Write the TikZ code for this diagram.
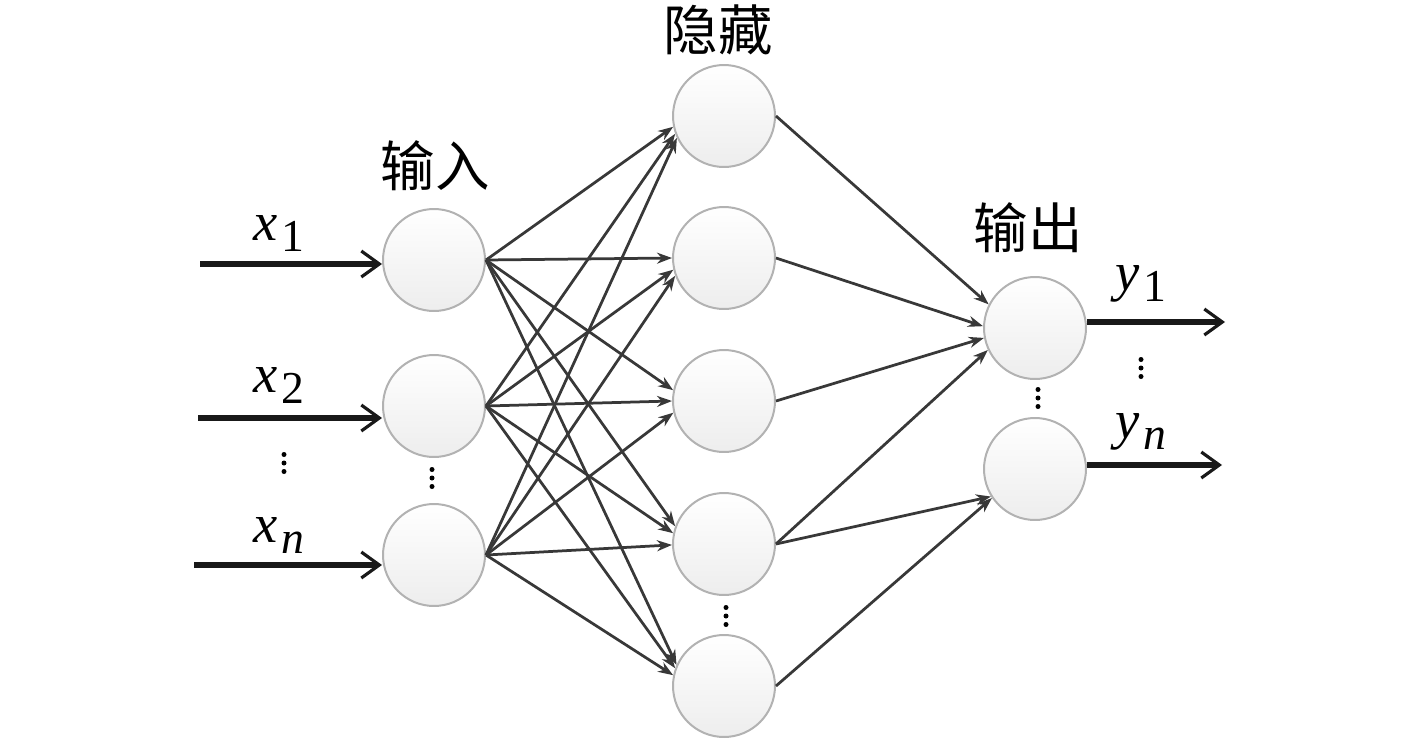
\documentclass[tikz,border=0pt]{standalone}
\usepackage{fontspec}
\setmainfont{Liberation Serif}
\newfontfamily\timesfont{Liberation Serif}
\newfontfamily\cjk{Noto Sans CJK SC}
\usetikzlibrary{arrows.meta}

\newcommand{\varsub}[2]{\textit{#1}\kern0.08cm\raisebox{-0.22cm}{\fontsize{26}{26}\selectfont #2}}
\newcommand{\threedots}[1]{\foreach \d in {-1,0,1} {\fill (#1) ++(0,\d*8.5) circle (0.05cm);}}

\tikzset{
    neuron/.style={circle, draw=gray!60, line width=0.04cm, top color=white, bottom color=gray!14, minimum size=2.04cm, inner sep=0pt},
    link/.style={-{Stealth[length=0.3cm,width=0.22cm]}, line width=0.055cm, draw=black!78},
    signal/.style={-{Straight Barb[length=0.36cm,width=0.52cm,line width=1.8pt]}, line width=0.12cm, draw=black!90},
    layer/.style={font=\cjk\fontsize{31}{36}\selectfont, inner sep=0pt},
    var/.style={font=\timesfont\fontsize{31}{36}\selectfont, inner sep=0pt, anchor=base west}
}

\begin{document}
\begin{tikzpicture}[x=0.02cm, y=-0.02cm]

        \useasboundingbox (0,0) rectangle (1417,744);

        \node[layer] at (435,166) (labin) {输入};
        \node[layer] at (718,30) (labhid) {隐藏};
        \node[layer] at (1028,228) (labout) {输出};

        \node[neuron] at (434,260) (in1) {};
        \node[neuron] at (434,406) (in2) {};
        \node[neuron] at (434,555) (in3) {};
        \node[neuron] at (724,116) (hid1) {};
        \node[neuron] at (724,258) (hid2) {};
        \node[neuron] at (724,401) (hid3) {};
        \node[neuron] at (724,544) (hid4) {};
        \node[neuron] at (724,686) (hid5) {};
        \node[neuron] at (1035,328) (out1) {};
        \node[neuron] at (1035,469) (out2) {};

        \node[var] at (253,240) (x1) {\varsub{x}{1}};
        \node[var] at (253,392) (x2) {\varsub{x}{2}};
        \node[var] at (253,542) (xn) {\varsub{x}{\textit{n}}};
        \node[var] at (1115,290) (y1) {\varsub{y}{1}};
        \node[var] at (1115,438) (yn) {\varsub{y}{\textit{n}}};

        \coordinate (dx) at (284,463);
        \coordinate (din) at (432,478);
        \coordinate (dhid) at (726,616);
        \coordinate (dout) at (1038,398);
        \coordinate (dy) at (1141,368);
        \threedots{dx}
        \threedots{din}
        \threedots{dhid}
        \threedots{dout}
        \threedots{dy}

        \coordinate (sx1) at (200,264);
        \coordinate (sx2) at (198,418);
        \coordinate (sxn) at (194,565);
        \coordinate (ey1) at (1225,322);
        \coordinate (eyn) at (1222,465);
        \draw[signal] (sx1) -- (sx1 -| in1.west);
        \draw[signal] (sx2) -- (sx2 -| in2.west);
        \draw[signal] (sxn) -- (sxn -| in3.west);
        \draw[signal] (ey1 -| out1.east) -- (ey1);
        \draw[signal] (eyn -| out2.east) -- (eyn);

        \draw[link] (in1.east) -- (hid1.192);
        \draw[link] (in1.east) -- (hid2.180);
        \draw[link] (in1.east) -- (hid3.168);
        \draw[link] (in1.east) -- (hid4.160);
        \draw[link] (in1.east) -- (hid5.156);
        \draw[link] (in2.east) -- (hid1.200);
        \draw[link] (in2.east) -- (hid2.193);
        \draw[link] (in2.east) -- (hid3.180);
        \draw[link] (in2.east) -- (hid4.168);
        \draw[link] (in2.east) -- (hid5.160);
        \draw[link] (in3.east) -- (hid1.205);
        \draw[link] (in3.east) -- (hid2.200);
        \draw[link] (in3.east) -- (hid3.193);
        \draw[link] (in3.east) -- (hid4.181);
        \draw[link] (in3.east) -- (hid5.168);

        \draw[link] (hid1.east) -- (out1.153);
        \draw[link] (hid2.east) -- (out1.178);
        \draw[link] (hid3.east) -- (out1.191);
        \draw[link] (hid4.east) -- (out1.205);
        \draw[link] (hid4.east) -- (out2.212);
        \draw[link] (hid5.east) -- (out2.214);

\end{tikzpicture}
\end{document}
